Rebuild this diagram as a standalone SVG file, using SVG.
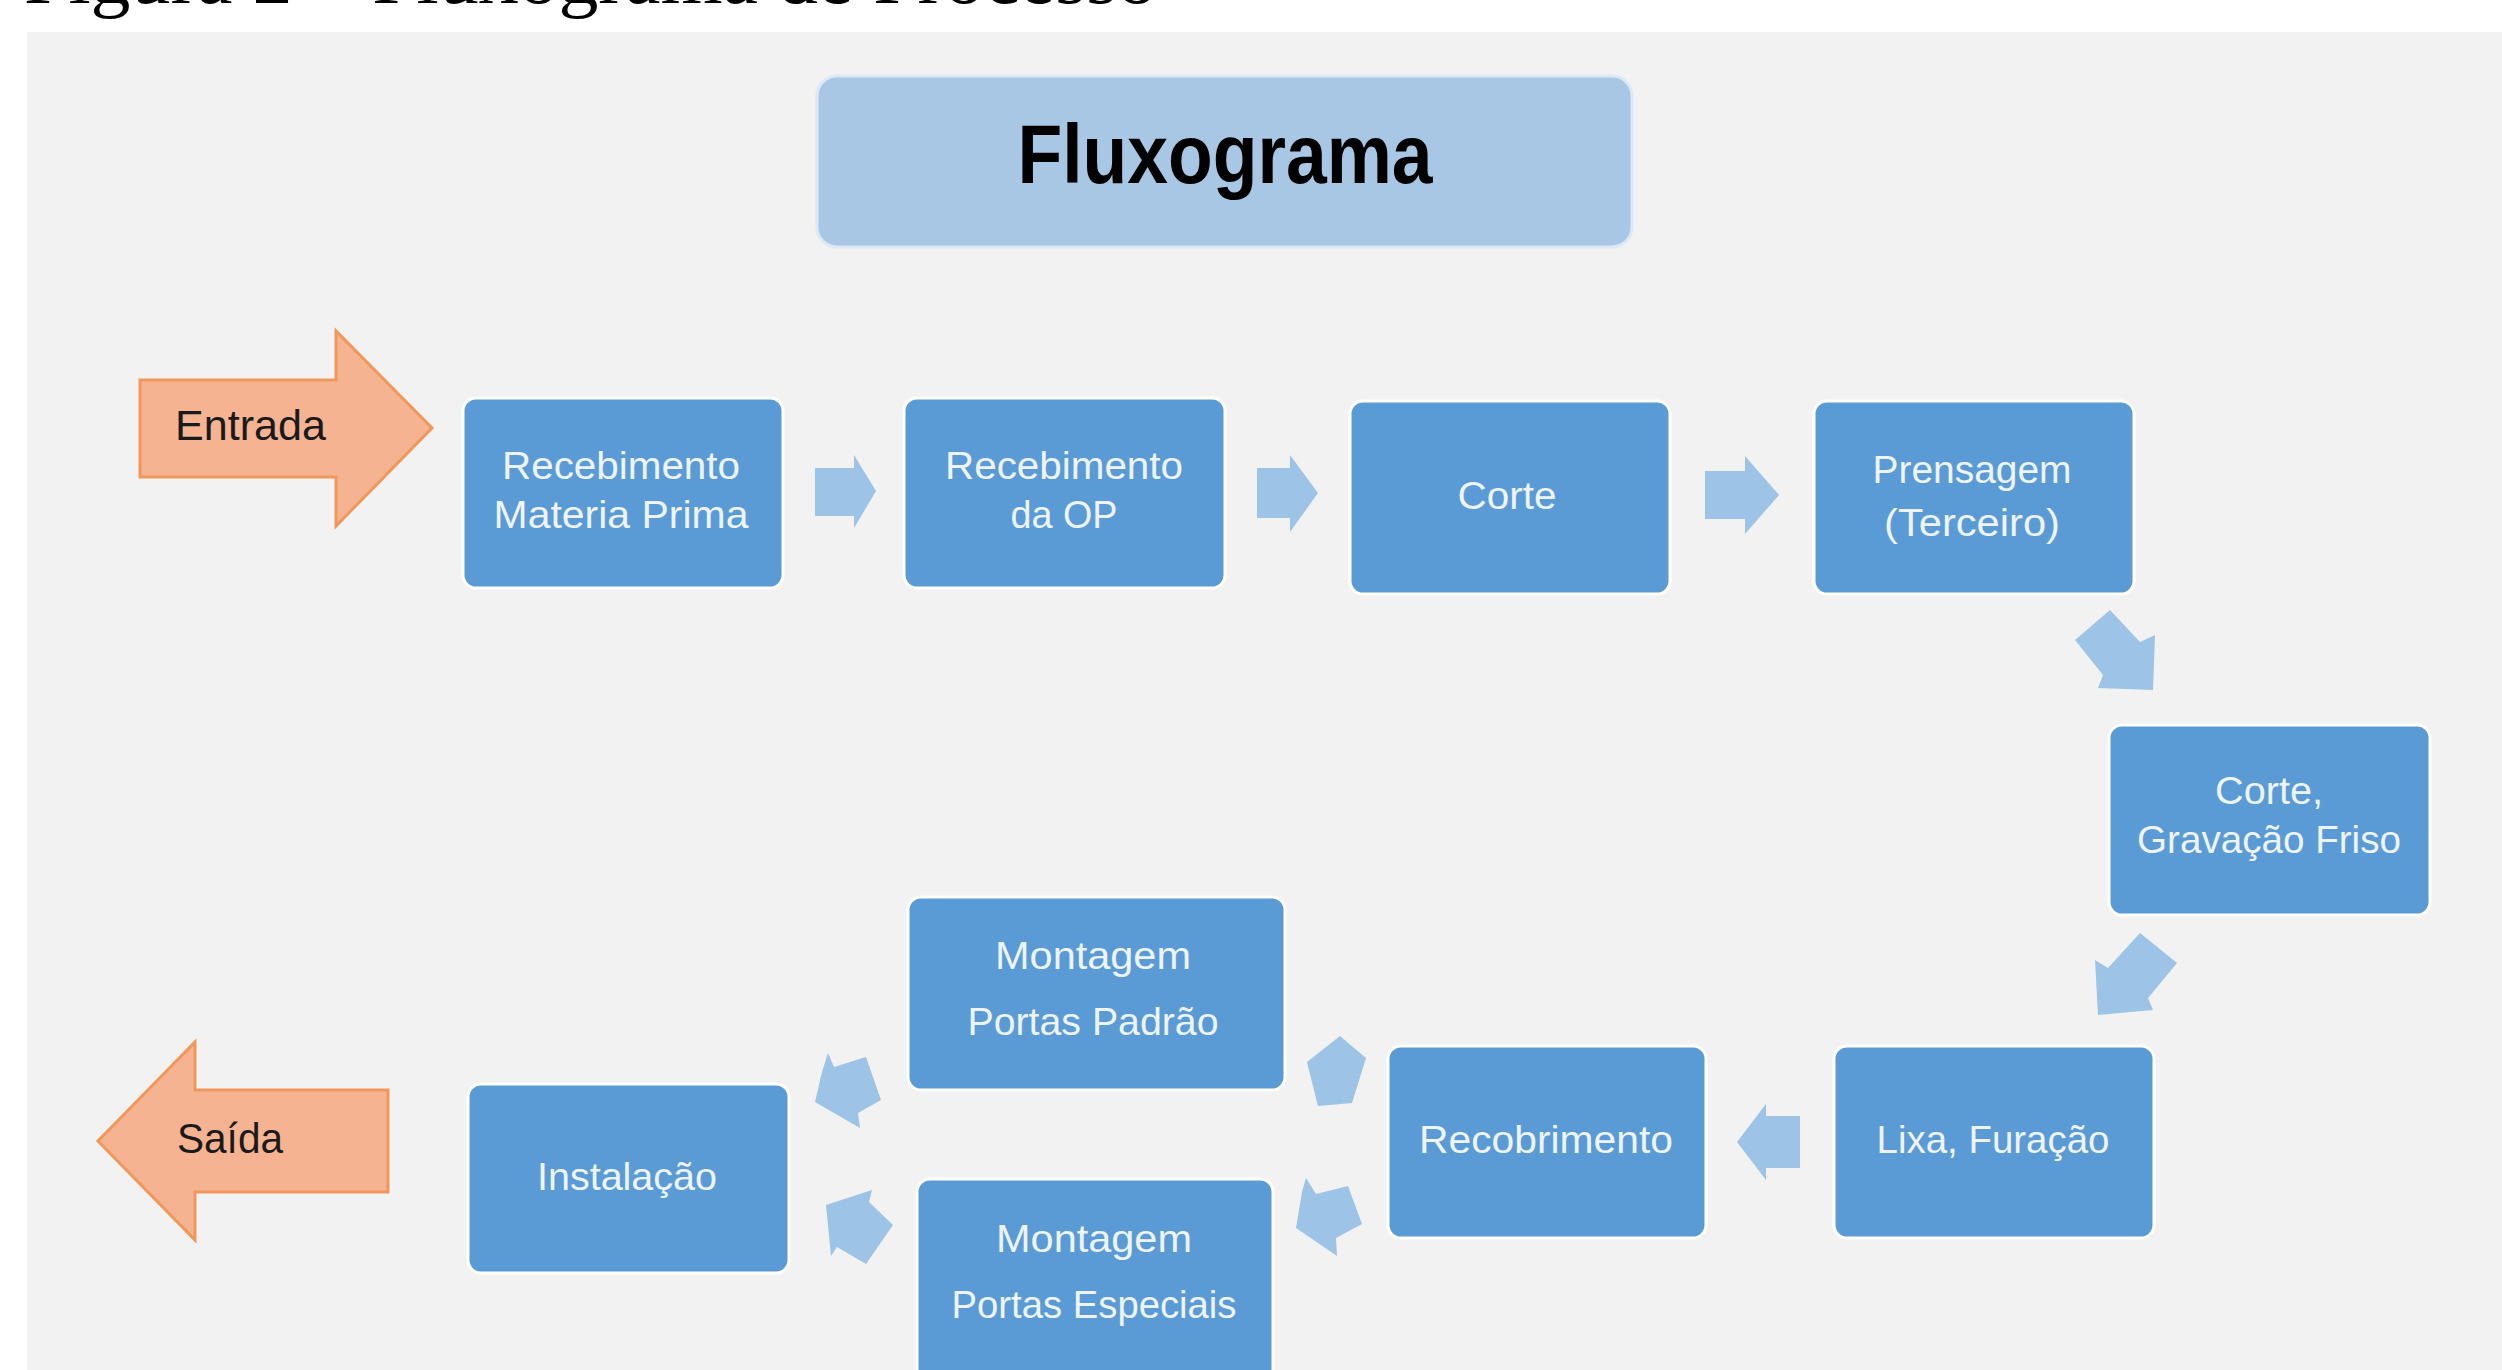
<svg xmlns="http://www.w3.org/2000/svg" width="2502" height="1370" viewBox="0 0 2502 1370">
<style>
.box{fill:#5b9bd5;stroke:#ffffff;stroke-width:3}
.bt{font-family:"Liberation Sans",Arial,sans-serif;font-size:39px;fill:#eef4fb;text-anchor:middle}
.conn{fill:#9dc3e6;stroke:none}
.io{fill:#f6b391;stroke:#f0985c;stroke-width:3;stroke-linejoin:miter}
.iot{font-family:"Liberation Sans",Arial,sans-serif;font-size:42px;fill:#1a1a1a}
</style>
<rect x="0" y="0" width="2502" height="1370" fill="#ffffff"/>
<text x="24" y="3" font-family="Liberation Serif,'Times New Roman',serif" font-size="76" fill="#000" textLength="1133" lengthAdjust="spacingAndGlyphs">Figura 2 – Fluxograma de Processo</text>
<rect x="27" y="32" width="2475" height="1338" fill="#f2f2f2"/>

<g id="title">
<rect x="817" y="76" width="815" height="171" rx="20" fill="#a8c7e5" stroke="#dce8f4" stroke-width="3"/>
<text x="1225" y="183" font-family="Liberation Sans,Arial,sans-serif" font-size="84" font-weight="bold" fill="#000" text-anchor="middle" textLength="415" lengthAdjust="spacingAndGlyphs">Fluxograma</text>
</g>

<g id="entrada">
<path class="io" d="M140,380 H336 V331 L432,428 L336,526 V477 H140 Z"/>
<text class="iot" x="175" y="440" textLength="151" lengthAdjust="spacingAndGlyphs">Entrada</text>
</g>

<g id="saida">
<path class="io" d="M388,1090 H195 V1042 L98,1141 L195,1240 V1192 H388 Z"/>
<text class="iot" x="177" y="1153" textLength="106" lengthAdjust="spacingAndGlyphs">Saída</text>
</g>

<g id="recebimento-mp">
<rect class="box" x="463" y="398" width="320" height="190" rx="13"/>
<text class="bt" x="621" y="479" textLength="238" lengthAdjust="spacingAndGlyphs">Recebimento</text>
<text class="bt" x="621" y="528" textLength="255" lengthAdjust="spacingAndGlyphs">Materia Prima</text>
</g>

<g id="recebimento-op">
<rect class="box" x="904" y="398" width="321" height="190" rx="13"/>
<text class="bt" x="1064" y="479" textLength="238" lengthAdjust="spacingAndGlyphs">Recebimento</text>
<text class="bt" x="1064" y="528" textLength="107" lengthAdjust="spacingAndGlyphs">da OP</text>
</g>

<g id="corte">
<rect class="box" x="1350" y="401" width="320" height="193" rx="13"/>
<text class="bt" x="1507" y="509" textLength="99" lengthAdjust="spacingAndGlyphs">Corte</text>
</g>

<g id="prensagem">
<rect class="box" x="1814" y="401" width="320" height="193" rx="13"/>
<text class="bt" x="1972" y="483" textLength="199" lengthAdjust="spacingAndGlyphs">Prensagem</text>
<text class="bt" x="1972" y="536" textLength="176" lengthAdjust="spacingAndGlyphs">(Terceiro)</text>
</g>

<g id="corte-gravacao">
<rect class="box" x="2109" y="725" width="321" height="190" rx="13"/>
<text class="bt" x="2269" y="804" textLength="108" lengthAdjust="spacingAndGlyphs">Corte,</text>
<text class="bt" x="2269" y="853" textLength="264" lengthAdjust="spacingAndGlyphs">Gravação Friso</text>
</g>

<g id="lixa-furacao">
<rect class="box" x="1834" y="1046" width="320" height="192" rx="13"/>
<text class="bt" x="1993" y="1153" textLength="233" lengthAdjust="spacingAndGlyphs">Lixa, Furação</text>
</g>

<g id="recobrimento">
<rect class="box" x="1388" y="1046" width="318" height="192" rx="13"/>
<text class="bt" x="1546" y="1153" textLength="254" lengthAdjust="spacingAndGlyphs">Recobrimento</text>
</g>

<g id="montagem-padrao">
<rect class="box" x="908" y="897" width="377" height="193" rx="13"/>
<text class="bt" x="1093" y="969" textLength="196" lengthAdjust="spacingAndGlyphs">Montagem</text>
<text class="bt" x="1093" y="1035" textLength="251" lengthAdjust="spacingAndGlyphs">Portas Padrão</text>
</g>

<g id="montagem-especiais">
<rect class="box" x="917" y="1179" width="356" height="210" rx="13"/>
<text class="bt" x="1094" y="1252" textLength="196" lengthAdjust="spacingAndGlyphs">Montagem</text>
<text class="bt" x="1094" y="1318" textLength="285" lengthAdjust="spacingAndGlyphs">Portas Especiais</text>
</g>

<g id="instalacao">
<rect class="box" x="468" y="1084" width="321" height="189" rx="13"/>
<text class="bt" x="627" y="1190" textLength="180" lengthAdjust="spacingAndGlyphs">Instalação</text>
</g>

<g id="connectors">
<path class="conn" d="M815,468 H854 V455 L876,491 L854,528 V516 H815 Z"/>
<path class="conn" d="M1257,468 H1290 V455 L1318,493 L1290,532 V518 H1257 Z"/>
<path class="conn" d="M1705,471 H1745 V456 L1779,495 L1745,534 V519 H1705 Z"/>
<path class="conn" d="M2110,610 L2140,642 L2155,635 L2153,690 L2098,688 L2103,675 L2075,640 Z"/>
<path class="conn" d="M2140,933 L2177,963 L2148,998 L2153,1010 L2098,1015 L2095,960 L2108,968 Z"/>
<path class="conn" d="M1800,1116 H1766 V1104 L1737,1142 L1766,1180 V1168 H1800 Z"/>
<path class="conn" d="M1340,1036 L1366,1058 L1352,1103 L1318,1106 L1307,1062 Z"/>
<path class="conn" d="M1306,1178 L1316,1194 L1348,1186 L1362,1224 L1336,1238 L1337,1256 L1296,1228 L1302,1192 Z"/>
<path class="conn" d="M828,1053 L834,1067 L866,1057 L881,1100 L858,1113 L860,1128 L815,1102 L822,1072 Z"/>
<path class="conn" d="M826,1205 L872,1190 L869,1202 L893,1225 L866,1264 L837,1247 L831,1256 Z"/>
</g>
</svg>
